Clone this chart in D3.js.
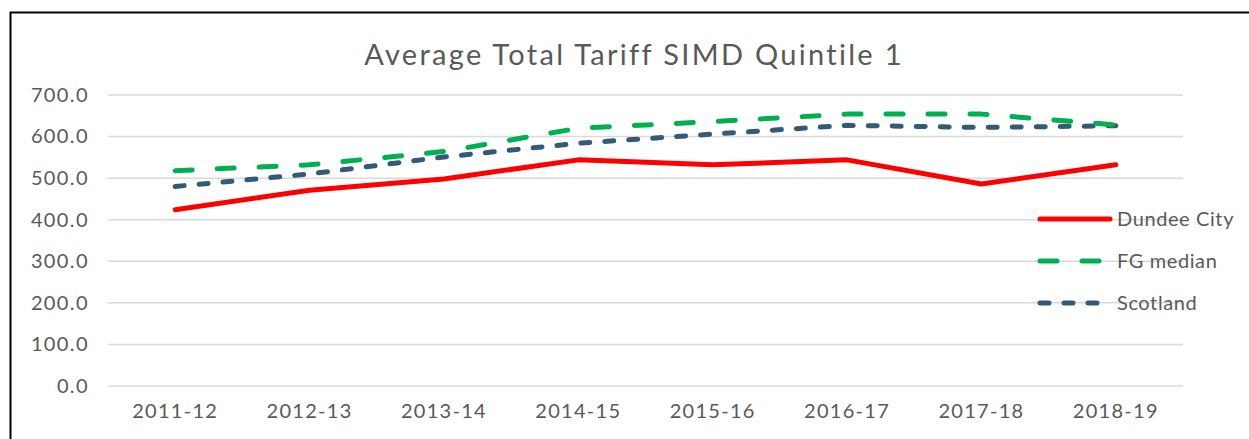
<!DOCTYPE html>
<html>
<head>
<meta charset="utf-8">
<script src="https://cdn.jsdelivr.net/npm/d3@7"></script>
<style>
  body { margin: 0; background: #fff; }
  svg text { font-family: "Lato", "Open Sans", sans-serif; fill: #595959; }
</style>
</head>
<body>
<div id="canvas"></div>
<script>
var years = ['2011-12', '2012-13', '2013-14', '2014-15', '2015-16', '2016-17', '2017-18', '2018-19']
var dundee = [424, 471, 498, 544, 532, 544, 486, 532]
var fgMedian = [518, 532, 564, 620, 636, 654, 654, 628]
var scotland = [480, 510, 551, 584, 606, 627, 622, 626]
var yTicks = [0, 100, 200, 300, 400, 500, 600, 700]

var series = [
    { name: 'Dundee City', values: dundee, color: '#FF0000', dash: null },
    { name: 'FG median', values: fgMedian, color: '#00B050', dash: '17,25' },
    { name: 'Scotland', values: scotland, color: '#345A74', dash: '9,15' }
]

var width = 1249, height = 439
var margin = { top: 95, right: 66, bottom: 53, left: 108 }
var plotW = width - margin.left - margin.right
var plotH = height - margin.top - margin.bottom

var svg = d3.select('#canvas').append('svg')
    .attr('width', width)
    .attr('height', height)

// frame: only left and top edges show
svg.append('path')
    .attr('d', 'M10.5,' + height + 'V12.5H' + width)
    .attr('fill', 'none')
    .attr('stroke', '#000')
    .attr('stroke-width', 2)

svg.append('text')
    .attr('x', 634)
    .attr('y', 65)
    .attr('text-anchor', 'middle')
    .style('font-size', '29px')
    .style('letter-spacing', '2.3px')
    .text('Average Total Tariff SIMD Quintile 1')

var g = svg.append('g')
    .attr('transform', 'translate(' + margin.left + ',' + margin.top + ')')

var x = d3.scaleBand().domain(years).range([0, plotW])
var y = d3.scaleLinear().domain([0, 700]).range([plotH, 0])

// gridlines
g.append('g')
    .selectAll('line')
    .data(yTicks)
    .enter().append('line')
    .attr('x1', 0)
    .attr('x2', plotW)
    .attr('y1', d => y(d))
    .attr('y2', d => y(d))
    .attr('stroke', '#D9D9D9')
    .attr('stroke-width', 1.5)

// y axis
var yAxis = g.append('g')
    .call(d3.axisLeft(y).tickValues(yTicks).tickFormat(d3.format('.1f')).tickSize(0).tickPadding(19))
yAxis.select('.domain').remove()
yAxis.selectAll('text')
    .style('font-size', '20px')
    .style('letter-spacing', '1.4px')
    .attr('fill', '#595959')

// x axis
var xAxis = g.append('g')
    .attr('transform', 'translate(0,' + plotH + ')')
    .call(d3.axisBottom(x).tickSize(0).tickPadding(18))
xAxis.select('.domain').remove()
xAxis.selectAll('text')
    .style('font-size', '20px')
    .style('letter-spacing', '1.3px')
    .attr('fill', '#595959')

var line = d3.line()
    .x((d, i) => x(years[i]) + x.bandwidth() / 2)
    .y(d => y(d))

// draw back-to-front so red stays on top
series.slice().reverse().forEach(s => {
    g.append('path')
        .datum(s.values)
        .attr('d', line)
        .attr('fill', 'none')
        .attr('stroke', s.color)
        .attr('stroke-width', 5)
        .attr('stroke-linecap', 'round')
        .attr('stroke-linejoin', 'round')
        .attr('stroke-dasharray', s.dash)
})

// legend
var legend = svg.append('g')
    .selectAll('g')
    .data(series)
    .enter().append('g')
    .attr('transform', (d, i) => 'translate(1040,' + (219 + i * 42) + ')')

legend.append('line')
    .attr('x1', 0)
    .attr('x2', 70)
    .attr('stroke', d => d.color)
    .attr('stroke-width', 5)
    .attr('stroke-linecap', 'round')
    .attr('stroke-dasharray', d => d.dash)

legend.append('text')
    .attr('x', 77)
    .attr('dy', '0.35em')
    .style('font-size', '20px')
    .style('letter-spacing', '0.6px')
    .text(d => d.name)
</script>
</body>
</html>
